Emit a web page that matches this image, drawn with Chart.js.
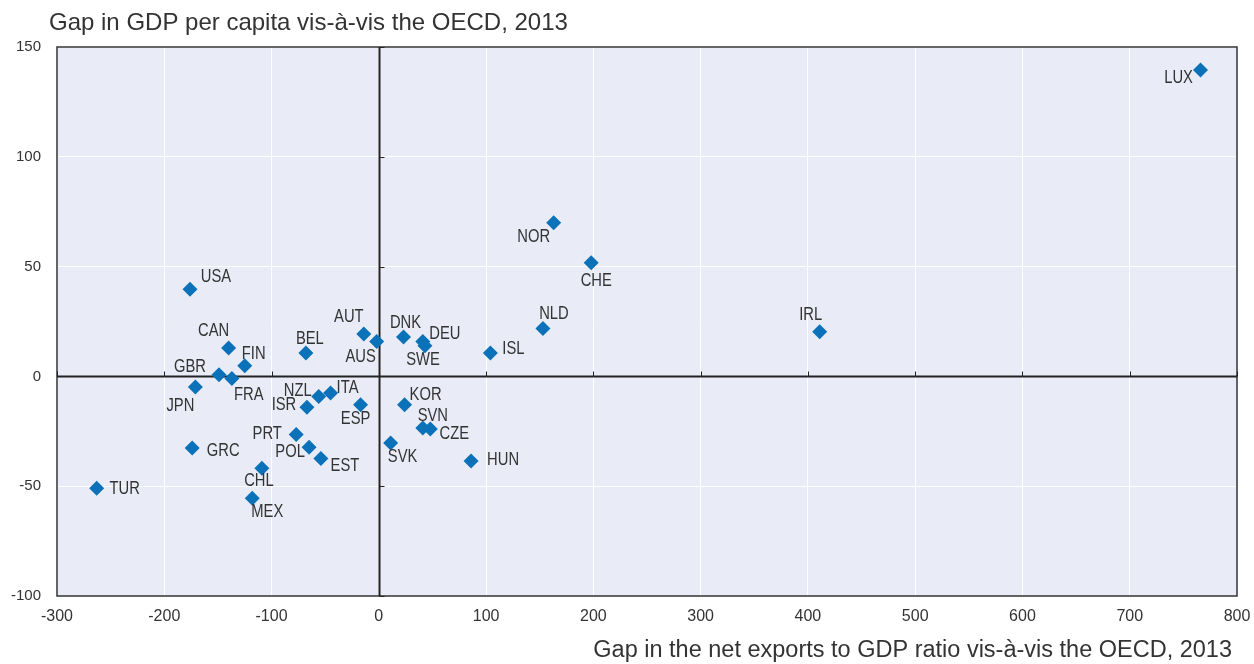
<!DOCTYPE html>
<html>
<head>
<meta charset="utf-8">
<title>Gap in GDP per capita vs net exports</title>
<script src="https://cdn.jsdelivr.net/npm/chart.js@4/dist/chart.umd.min.js"></script>
<style>
    html, body { margin: 0; padding: 0; background: #ffffff; }
    #wrap { position: relative; width: 1254px; height: 664px; }
</style>
</head>
<body>
<div id="wrap"><canvas id="chart" width="1254" height="664"></canvas></div>
<script>
(function() {
    'use strict';

    // Data
    var countries = ['LUX', 'NOR', 'CHE', 'NLD', 'IRL', 'ISL', 'AUT', 'AUS', 'DNK', 'DEU', 'SWE', 'BEL',
        'KOR', 'SVN', 'CZE', 'SVK', 'HUN', 'ESP', 'ITA', 'NZL', 'ISR', 'PRT', 'POL', 'EST', 'CHL', 'MEX',
        'TUR', 'GRC', 'JPN', 'GBR', 'FRA', 'FIN', 'CAN', 'USA'];
    var netExportsGap = [766, 163, 198, 153, 411, 104, -14, -2, 23, 41, 43, -68,
        24, 41, 48, 11, 86, -17, -45, -56, -67, -77, -65, -54, -109, -118,
        -263, -174, -171, -149, -137, -125, -140, -176];
    var gdpPerCapitaGap = [139.5, 70, 51.8, 21.8, 20.3, 10.6, 19.3, 15.9, 17.9, 15.9, 14, 10.6,
        -12.9, -23.5, -23.9, -30.3, -38.5, -12.9, -7.6, -9.1, -14.1, -26.5, -32.3, -37.4, -41.8, -55.5,
        -50.9, -32.6, -4.8, 0.8, -1.0, 4.9, 12.9, 39.7];

    var xTitle = 'Gap in the net exports to GDP ratio vis-à-vis the OECD, 2013';
    var yTitle = 'Gap in GDP per capita vis-à-vis the OECD, 2013';

    // Label placement (pixel offset of label centre from the marker)
    var labelOffsets = {
        LUX: [-22, 8], NOR: [-20, 14], CHE: [5, 18], NLD: [11, -14], IRL: [-9, -17], ISL: [23, -4],
        AUT: [-15, -17], AUS: [-16, 16], DNK: [2, -14], DEU: [22, -7], SWE: [-2, 14], BEL: [4, -14],
        KOR: [21, -10], SVN: [10, -12], CZE: [24, 5], SVK: [12, 14], HUN: [32, -1], ESP: [-5, 14],
        ITA: [17, -5], NZL: [-21, -5], ISR: [-23, -2], PRT: [-29, -1], POL: [-19, 5], EST: [24, 8],
        CHL: [-3, 13], MEX: [15, 14], TUR: [28, 1], GRC: [31, 3], JPN: [-15, 19], GBR: [-29, -8],
        FRA: [17, 16], FIN: [9, -12], CAN: [-15, -17], USA: [26, -12]
    };

    var plainFont = 'Arial, "Liberation Sans", sans-serif';
    var textColor = '#333333';
    var markerColor = '#0b72b9';
    var plotBackground = '#e9ecf6';
    var narrowScale = 0.82;   // fake an Arial Narrow look

    var points = countries.map(function(code, i) {
        return { x: netExportsGap[i], y: gdpPerCapitaGap[i], code: code };
    });

    /**
     * Draw text squeezed horizontally around its centre
     */
    function narrowText(ctx, text, x, y) {
        ctx.save();
        ctx.translate(x, y);
        ctx.scale(narrowScale, 1);
        ctx.fillText(text, 0, 0);
        ctx.restore();
    }

    /**
     * Plot background, frame, zero lines with their tick marks, titles and point labels
     */
    var decorations = {
        id: 'decorations',
        beforeDraw: function(chart) {
            var ctx = chart.ctx;
            var area = chart.chartArea;
            ctx.save();
            ctx.fillStyle = plotBackground;
            ctx.fillRect(area.left, area.top, area.right - area.left, area.bottom - area.top);
            ctx.restore();
        },
        beforeDatasetsDraw: function(chart) {
            var ctx = chart.ctx;
            var area = chart.chartArea;
            var xs = chart.scales.x;
            var ys = chart.scales.y;
            var x0 = Math.round(xs.getPixelForValue(0)) + 0.5;
            var y0 = Math.round(ys.getPixelForValue(0)) + 0.5;

            ctx.save();
            ctx.strokeStyle = '#333333';
            ctx.lineWidth = 1.5;
            ctx.strokeRect(area.left, area.top, area.right - area.left, area.bottom - area.top);

            ctx.strokeStyle = '#222222';
            ctx.lineWidth = 2;
            ctx.beginPath();
            ctx.moveTo(x0, area.top);
            ctx.lineTo(x0, area.bottom);
            ctx.moveTo(area.left, y0);
            ctx.lineTo(area.right, y0);
            ctx.stroke();

            // small ticks on the zero lines
            ctx.lineWidth = 1;
            ctx.beginPath();
            xs.ticks.forEach(function(t) {
                var px = Math.round(xs.getPixelForValue(t.value)) + 0.5;
                ctx.moveTo(px, y0);
                ctx.lineTo(px, y0 - 5);
            });
            ys.ticks.forEach(function(t) {
                var py = Math.round(ys.getPixelForValue(t.value)) + 0.5;
                ctx.moveTo(x0, py);
                ctx.lineTo(x0 + 5, py);
            });
            ctx.stroke();
            ctx.restore();
        },
        afterDatasetsDraw: function(chart) {
            var ctx = chart.ctx;
            var meta = chart.getDatasetMeta(0);
            ctx.save();
            ctx.fillStyle = textColor;
            ctx.textAlign = 'center';
            ctx.textBaseline = 'middle';
            ctx.font = '18px ' + plainFont;
            meta.data.forEach(function(el, i) {
                var off = labelOffsets[countries[i]] || [0, -14];
                narrowText(ctx, countries[i], el.x + off[0], el.y + off[1]);
            });

            // axis titles
            ctx.textBaseline = 'alphabetic';
            ctx.font = '24px ' + plainFont;
            ctx.textAlign = 'left';
            ctx.fillText(yTitle, 49, 30);
            ctx.font = '23.5px ' + plainFont;
            ctx.textAlign = 'right';
            ctx.fillText(xTitle, 1232, 657);
            ctx.restore();
        }
    };

    var ctx = document.getElementById('chart').getContext('2d');

    new Chart(ctx, {
        type: 'scatter',
        data: {
            datasets: [{
                label: 'OECD countries',
                data: points,
                pointStyle: 'rectRot',
                pointRadius: 7.5,
                pointHoverRadius: 7.5,
                backgroundColor: markerColor,
                borderColor: markerColor,
                borderWidth: 0
            }]
        },
        options: {
            responsive: false,
            animation: false,
            events: [],
            layout: {
                padding: { top: 47, right: 17, bottom: 0, left: 0 }
            },
            plugins: {
                legend: { display: false },
                tooltip: { enabled: false }
            },
            scales: {
                x: {
                    type: 'linear',
                    min: -300,
                    max: 800,
                    afterFit: function(scale) {
                        scale.height = 68;
                        scale.paddingLeft = 0;
                        scale.paddingRight = 0;
                    },
                    ticks: {
                        stepSize: 100,
                        padding: 11,
                        color: textColor,
                        font: { family: plainFont, size: 16 }
                    },
                    grid: { color: '#ffffff', lineWidth: 1, drawTicks: false },
                    border: { display: false }
                },
                y: {
                    type: 'linear',
                    min: -100,
                    max: 150,
                    afterFit: function(scale) {
                        scale.width = 57;
                        scale.paddingTop = 0;
                        scale.paddingBottom = 0;
                    },
                    ticks: {
                        stepSize: 50,
                        padding: 16,
                        color: textColor,
                        font: { family: plainFont, size: 15 }
                    },
                    grid: { color: '#ffffff', lineWidth: 1, drawTicks: false },
                    border: { display: false }
                }
            }
        },
        plugins: [decorations]
    });
})();
</script>
</body>
</html>
